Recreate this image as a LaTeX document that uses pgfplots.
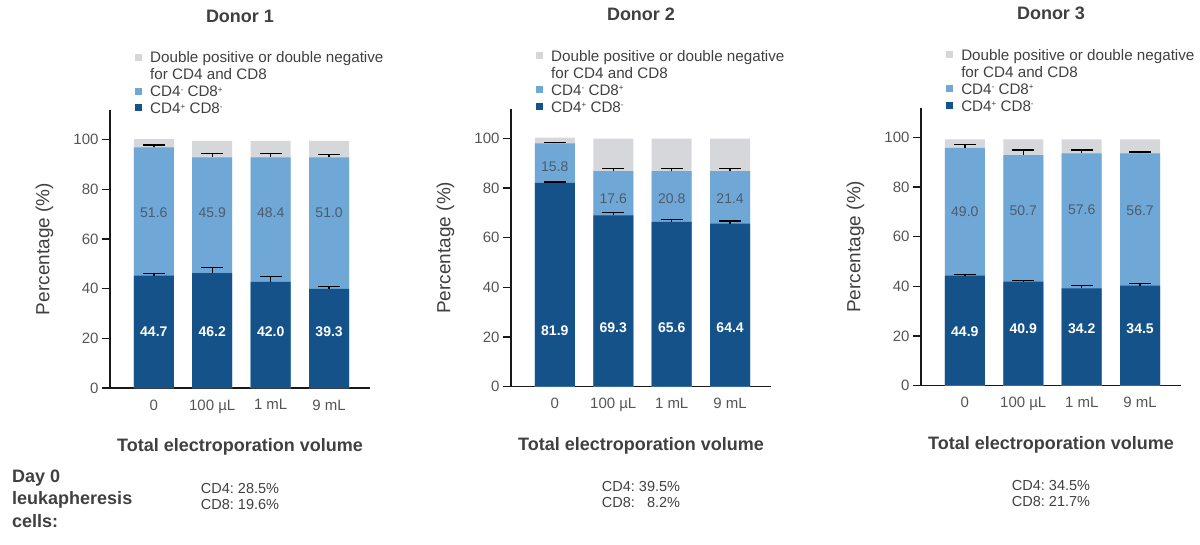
\documentclass[border=0pt]{standalone}
\usepackage{fontspec}
\setmainfont{Liberation Sans}
\usepackage{pgfplots}
\pgfplotsset{compat=1.18}
\usepackage{pgfplotstable}
\definecolor{cdark}{RGB}{21,82,137}
\definecolor{clight}{RGB}{111,168,214}
\definecolor{cgray}{RGB}{214,215,219}
\definecolor{textgray}{RGB}{64,64,64}
\definecolor{tickgray}{RGB}{85,85,85}
\definecolor{lablight}{RGB}{75,92,110}
\definecolor{axisblack}{RGB}{25,25,25}

\pgfplotstableread{
x dark derr light lerr top dlab dy llab ly
0 45.3 0.8 96.9 1.0 100.3 44.7 22.6 51.6 70.7
1 46.3 2.2 92.9 1.6 99.6 46.2 22.6 45.9 70.7
2 42.8 2.2 92.9 1.6 99.6 42.0 22.6 48.4 70.7
3 39.9 1.1 92.9 1.1 99.6 39.3 22.6 51.0 70.7
}\donorA
\pgfplotstableread{
x dark derr light lerr top dlab dy llab ly
0 82.1 0.4 98.0 0.4 100.3 81.9 22.5 15.8 88.8
1 69.0 1.2 86.8 1.0 99.9 69.3 23.6 17.6 75.8
2 66.4 0.9 86.8 1.0 99.9 65.6 23.6 20.8 75.8
3 65.7 1.1 86.8 1.0 99.9 64.4 23.6 21.4 75.8
}\donorB
\pgfplotstableread{
x dark derr light lerr top dlab dy llab ly
0 44.3 0.4 95.8 1.4 99.2 44.9 21.8 49.0 70.0
1 41.9 0.4 92.9 2.0 99.2 40.9 23.1 50.7 70.7
2 39.2 1.1 93.6 1.3 99.2 34.2 23.1 57.6 71.1
3 40.3 0.9 93.6 0.6 99.2 34.5 23.1 56.7 70.7
}\donorC

\pgfplotsset{
  donor/.style={
    width=260pt, height=278pt, scale only axis, anchor=south west,
    xmin=-0.75, xmax=3.7, ymin=0, ymax=112,
    axis x line*=bottom, axis y line*=left,
    axis line style={line width=1.3pt, color=axisblack},
    xtick={0,1,2,3}, xticklabels={0, 100 µL, 1 mL, 9 mL},
    ytick={0,20,40,60,80,100},
    xtick style={draw=none},
    ytick style={line width=1.3pt, color=axisblack},
    tick align=outside, major tick length=8pt,
    ticklabel style={font=\fontsize{15}{15}\selectfont, text=tickgray},
    /pgf/number format/assume math mode=true,
    clip=false,
    ylabel={Percentage (\%)},
    ylabel style={at={(axis description cs:-0.252,0.5)}, anchor=center, font=\fontsize{19}{19}\selectfont, text=textgray},
    xlabel={Total electroporation volume},
    xlabel style={at={(axis description cs:0.5,-0.211)}, anchor=center, font=\bfseries\fontsize{18}{18}\selectfont, text=textgray},
    title style={at={(axis description cs:0.5,1.3165)}, anchor=center, font=\bfseries\fontsize{18}{18}\selectfont, text=textgray},
  },
  barbase/.style={ybar, bar width=40pt, bar shift=0pt, draw=none},
  errs/.style={error bars/.cd, y dir=plus, y explicit,
    error bar style={line width=1.4pt, black},
    error mark options={rotate=90, black, line width=1.4pt, mark size=11pt}},
  lablight/.style={draw=none, mark=none, nodes near coords, point meta=explicit symbolic,
    every node near coord/.append style={anchor=center, font=\fontsize{14}{14}\selectfont, text=lablight}},
  labdark/.style={draw=none, mark=none, nodes near coords, point meta=explicit symbolic,
    every node near coord/.append style={anchor=center, font=\bfseries\fontsize{14}{14}\selectfont, text=white}},
}

\newcommand\sups[1]{\raisebox{0.55ex}{\fontsize{8}{8}\selectfont #1}}
\newcommand\donorlegend{%
  \fill[cgray] (axis description cs:0.1077,1.1906) ++(-3.5pt,-3.5pt) rectangle ++(7pt,7pt);
  \fill[clight] (axis description cs:0.1077,1.0683) ++(-3.5pt,-3.5pt) rectangle ++(7pt,7pt);
  \fill[cdark] (axis description cs:0.1077,1.0072) ++(-3.5pt,-3.5pt) rectangle ++(7pt,7pt);
  \node[anchor=base west, inner sep=0pt, font=\fontsize{15.2}{15.2}\selectfont, text=textgray] at (axis description cs:0.154,1.1709) {Double positive or double negative};
  \node[anchor=base west, inner sep=0pt, font=\fontsize{15.2}{15.2}\selectfont, text=textgray] at (axis description cs:0.154,1.1097) {for CD4 and CD8};
  \node[anchor=base west, inner sep=0pt, font=\fontsize{15.2}{15.2}\selectfont, text=textgray] at (axis description cs:0.154,1.0486) {CD4\sups{-} CD8\sups{+}};
  \node[anchor=base west, inner sep=0pt, font=\fontsize{15.2}{15.2}\selectfont, text=textgray] at (axis description cs:0.154,0.9874) {CD4\sups{+} CD8\sups{-}};
}
\newcommand\dayzero[2]{%
  \node[anchor=center, font=\fontsize{14.5}{16}\selectfont, text=textgray, inner sep=0pt] at (axis description cs:0.5,-0.396)
  {\begin{tabular}{@{}l@{\ }r@{}}CD4: & #1\%\\CD8: & #2\%\end{tabular}};
}

\begin{document}
\begin{tikzpicture}
\path[use as bounding box] (0,0) rectangle (1200pt,-545pt);

\begin{axis}[donor, at={(110pt,-388pt)}, title={Donor 1}]
\addplot[barbase, fill=cgray] table[x=x, y=top] {\donorA};
\addplot[barbase, fill=clight, errs] table[x=x, y=light, y error=lerr] {\donorA};
\addplot[barbase, fill=cdark, errs] table[x=x, y=dark, y error=derr] {\donorA};
\addplot[lablight] table[x=x, y=ly, meta=llab] {\donorA};
\addplot[labdark] table[x=x, y=dy, meta=dlab] {\donorA};
\donorlegend
\dayzero{28.5}{19.6}
\end{axis}

\begin{axis}[donor, at={(511pt,-386.7pt)}, title={Donor 2}]
\addplot[barbase, fill=cgray] table[x=x, y=top] {\donorB};
\addplot[barbase, fill=clight, errs] table[x=x, y=light, y error=lerr] {\donorB};
\addplot[barbase, fill=cdark, errs] table[x=x, y=dark, y error=derr] {\donorB};
\addplot[lablight] table[x=x, y=ly, meta=llab] {\donorB};
\addplot[labdark] table[x=x, y=dy, meta=dlab] {\donorB};
\donorlegend
\dayzero{39.5}{8.2}
\end{axis}

\begin{axis}[donor, at={(921pt,-385.7pt)}, title={Donor 3}]
\addplot[barbase, fill=cgray] table[x=x, y=top] {\donorC};
\addplot[barbase, fill=clight, errs] table[x=x, y=light, y error=lerr] {\donorC};
\addplot[barbase, fill=cdark, errs] table[x=x, y=dark, y error=derr] {\donorC};
\addplot[lablight] table[x=x, y=ly, meta=llab] {\donorC};
\addplot[labdark] table[x=x, y=dy, meta=dlab] {\donorC};
\donorlegend
\dayzero{34.5}{21.7}
\end{axis}

\node[anchor=west, align=left, font=\bfseries\fontsize{18}{22.5}\selectfont, text=textgray, inner sep=0pt] at (12pt,-498.5pt) {Day 0\\leukapheresis\\cells:};
\end{tikzpicture}
\end{document}
